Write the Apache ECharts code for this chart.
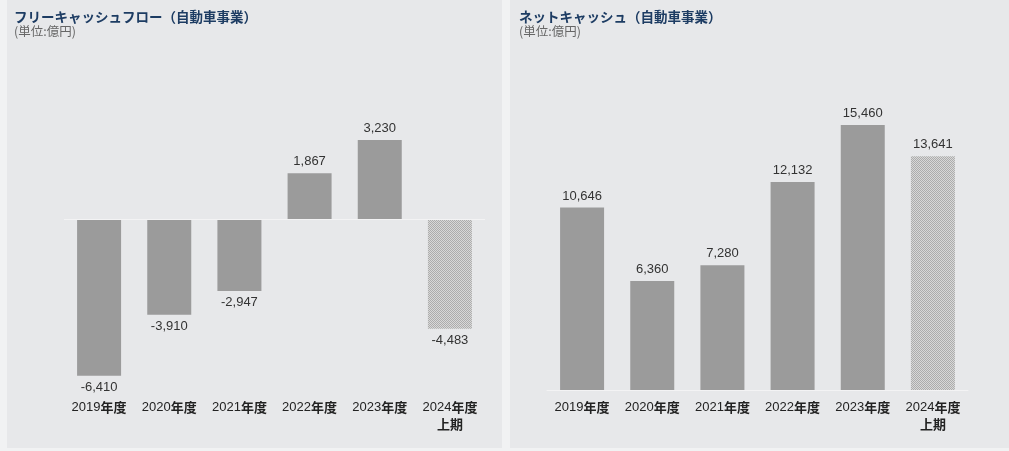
<!DOCTYPE html>
<html>
<head>
<meta charset="utf-8">
<script src="https://cdn.jsdelivr.net/npm/echarts@6/dist/echarts.min.js"></script>
<style>
  html, body { margin: 0; padding: 0; background: #f1f2f3; }
  #chart { width: 1009px; height: 451px; }
</style>
</head>
<body>
<div id="chart"></div>
<script>
// データ（単位：億円）
const years = ['2019年度', '2020年度', '2021年度', '2022年度', '2023年度', '2024年度\n上期'];
const freeCashFlow = [-6410, -3910, -2947, 1867, 3230, -4483];
const netCash = [10646, 6360, 7280, 12132, 15460, 13641];

const titleLeft = 'フリーキャッシュフロー（自動車事業）';
const titleRight = 'ネットキャッシュ（自動車事業）';
const unitText = '(単位:億円)';

const numFont = '"Liberation Sans", Arial, "Noto Sans CJK JP", sans-serif';
const jpFont = '"Noto Sans CJK JP", sans-serif';

// 上期の網掛けパターン
function makePattern() {
  const c = document.createElement('canvas');
  c.width = 2;
  c.height = 2;
  const ctx = c.getContext('2d');
  ctx.fillStyle = '#d8d8d8';
  ctx.fillRect(0, 0, 2, 2);
  ctx.fillStyle = '#acacac';
  ctx.fillRect(0, 0, 1, 1);
  ctx.fillRect(1, 1, 1, 1);
  return { image: c, repeat: 'repeat' };
}
const pattern = makePattern();

function toBarData(values) {
  return values.map((v, i) => ({
    value: v,
    itemStyle: i === values.length - 1 ? { color: pattern } : undefined,
    label: { position: v < 0 ? 'bottom' : 'top' }
  }));
}

// x軸ラベル：数字は細字、漢字は太字
function yearLabel(value) {
  return value.split('\n').map(line =>
    line.replace(/^(\d+)?(.*)$/, (m, d, rest) => (d ? '{n|' + d + '}' : '') + (rest ? '{b|' + rest + '}' : ''))
  ).join('\n');
}

const xLabelStyle = {
  interval: 0,
  formatter: yearLabel,
  margin: 9,
  lineHeight: 17,
  rich: {
    n: { fontFamily: numFont, fontSize: 13, color: '#222', lineHeight: 17 },
    b: { fontFamily: jpFont, fontSize: 13, fontWeight: 'bold', color: '#222', lineHeight: 17 }
  }
};

const valueLabel = {
  show: true,
  distance: 5,
  fontFamily: numFont,
  fontSize: 13,
  color: '#333',
  formatter: p => p.value.toLocaleString('en-US')
};

const titleStyle = { fontFamily: jpFont, fontSize: 13.5, fontWeight: 'bold', color: '#1d3c63' };
const subStyle = { fontFamily: jpFont, fontSize: 12.5, color: '#666' };

const myChart = echarts.init(document.getElementById('chart'));
const option = {
  animation: false,
  backgroundColor: '#f1f2f3',
  graphic: [
    { type: 'rect', z: -10, shape: { x: 7, y: 0, width: 495, height: 448 }, style: { fill: '#e7e8ea' } },
    { type: 'rect', z: -10, shape: { x: 510, y: 0, width: 499, height: 448 }, style: { fill: '#e7e8ea' } }
  ],
  title: [
    { text: titleLeft, subtext: unitText, left: 9, top: 5, itemGap: 2, textStyle: titleStyle, subtextStyle: subStyle },
    { text: titleRight, subtext: unitText, left: 514, top: 5, itemGap: 2, textStyle: titleStyle, subtextStyle: subStyle }
  ],
  grid: [
    { left: 64, width: 421, top: 100, bottom: 61 },
    { left: 547, width: 421, top: 100, bottom: 61 }
  ],
  xAxis: [
    {
      type: 'category', gridIndex: 0, data: years,
      axisLine: { show: false }, axisTick: { show: false },
      axisLabel: xLabelStyle
    },
    {
      type: 'category', gridIndex: 1, data: years,
      axisLine: { show: true, lineStyle: { color: '#f3f3f4', width: 1 } },
      axisTick: { show: false },
      axisLabel: xLabelStyle
    }
  ],
  yAxis: [
    { type: 'value', gridIndex: 0, min: -6991, max: 4865, show: false, splitLine: { show: false } },
    { type: 'value', gridIndex: 1, min: 0, max: 16920, show: false, splitLine: { show: false } }
  ],
  series: [
    {
      type: 'bar', xAxisIndex: 0, yAxisIndex: 0, barWidth: 44,
      itemStyle: { color: '#9b9b9b' },
      label: valueLabel,
      data: toBarData(freeCashFlow),
      markLine: {
        silent: true, symbol: 'none', label: { show: false },
        lineStyle: { color: '#f3f3f4', width: 1, type: 'solid' },
        data: [{ yAxis: 0 }]
      }
    },
    {
      type: 'bar', xAxisIndex: 1, yAxisIndex: 1, barWidth: 44,
      itemStyle: { color: '#9b9b9b' },
      label: valueLabel,
      data: toBarData(netCash)
    }
  ]
};
myChart.setOption(option);
window.addEventListener('resize', function () {
  myChart.resize();
});
</script>
</body>
</html>
